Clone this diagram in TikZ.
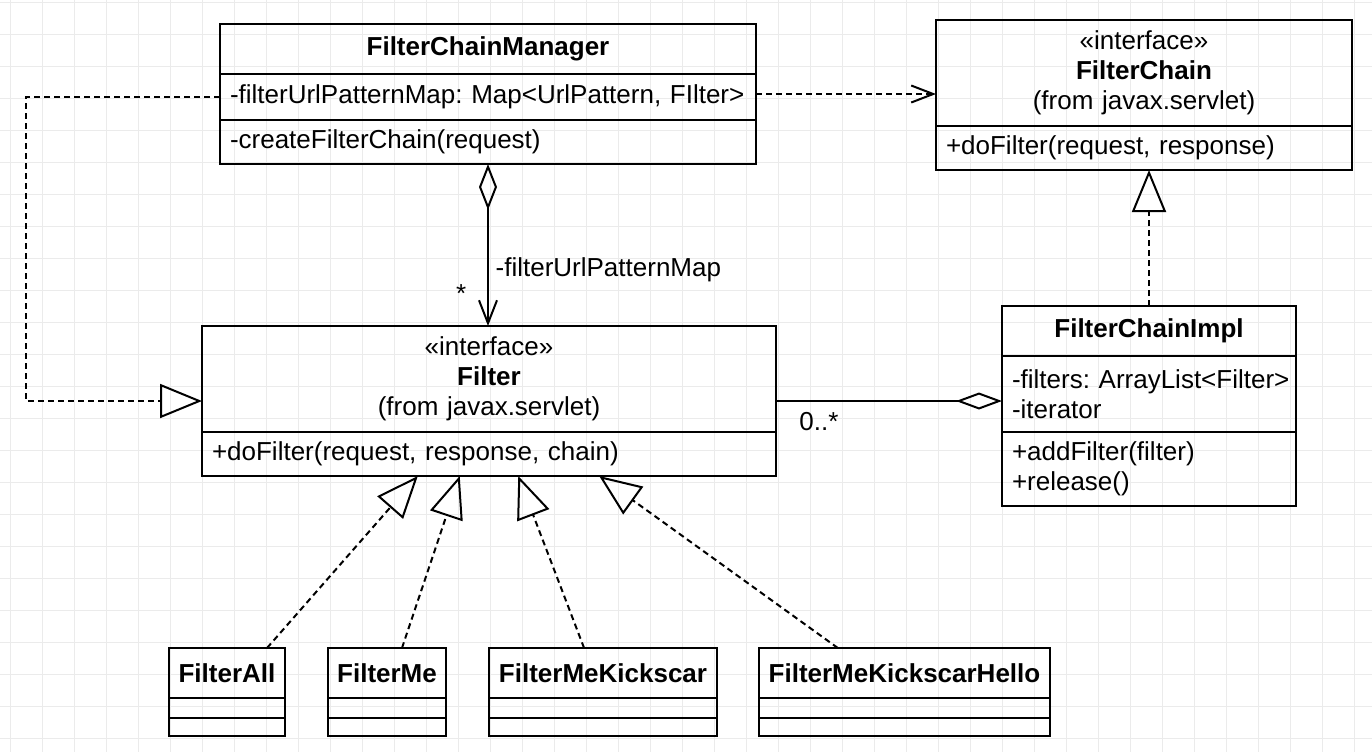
\documentclass[tikz,border=0pt]{standalone}
\usepackage{fontspec}
\setmainfont{Liberation Sans}
\frenchspacing
\usetikzlibrary{arrows.meta,chains,positioning,calc}

\begin{document}
\begin{tikzpicture}[x=0.5pt, y=-0.5pt,
			start chain =fcm going below,
			start chain =fc going below,
			start chain =flt going below,
			start chain =fci going below,
			start chain =fa going below,
			start chain =fme going below,
			start chain =fmk going below,
			start chain =fmkh going below,
			node distance = 0pt,
			every node/.style={font=\fontsize{13pt}{15pt}\selectfont},
			Cls/.style={draw, line width=1pt, outer sep=0pt, inner xsep=5pt, inner ysep=0pt},
			Head/.style={Cls, align=center, font=\fontsize{13pt}{15pt}\selectfont\bfseries},
			IHead/.style={Cls, align=center},
			Item/.style={Cls, align=left},
			Sm/.style={draw, line width=1pt, outer sep=0pt, inner xsep=3pt, inner ysep=0pt},
			SmHead/.style={Sm, font=\fontsize{13pt}{15pt}\selectfont\bfseries},
			gridline/.style={draw=black!8, line width=0.5pt},
			Dep/.style={line width=1pt, dash pattern=on 3pt off 2pt,
				-{Straight Barb[length=11pt, width=8.5pt]}},
			Real/.style={line width=1pt, dash pattern=on 3pt off 2pt,
				-{Triangle[open, length=21pt, width=17pt]}},
			Aggr/.style={line width=1pt,
				{Diamond[open, length=23pt, width=9pt]}-{Straight Barb[length=11.5pt, width=9pt]}},
			AggrEnd/.style={line width=1pt, -{Diamond[open, length=23pt, width=8.5pt]}},
			]
			\useasboundingbox (0,0) rectangle (1372,752);
			
			% background grid
			\foreach \gx in {10,42,...,1370} \draw[gridline] (\gx,0) -- (\gx,752);
			\foreach \gy in {2,34,...,750} \draw[gridline] (0,\gy) -- (1372,\gy);
			
			% FilterChainManager
			\node [Head, text width=258pt, minimum height=25pt, on chain=fcm, anchor=north west] (fcmH) at (220,24) {FilterChainManager};
			\node [Item, text width=258pt, minimum height=23pt, on chain=fcm] (fcmA) {\mbox{-filterUrlPatternMap: Map<UrlPattern, FIlter>}};
			\node [Item, text width=258pt, minimum height=22pt, on chain=fcm] (fcmM) {-createFilterChain(request)};
			
			% FilterChain
			\node [IHead, text width=198pt, minimum height=53pt, on chain=fc, anchor=north west] (fcH) at (936,20) {«interface»\\\textbf{FilterChain}\\(from javax.servlet)};
			\node [Item, text width=198pt, minimum height=22pt, on chain=fc] (fcM) {\mbox{+doFilter(request, response)}};
			
			% Filter
			\node [IHead, text width=277pt, minimum height=53pt, on chain=flt, anchor=north west] (fltH) at (202,326) {«interface»\\\textbf{Filter}\\(from javax.servlet)};
			\node [Item, text width=277pt, minimum height=22pt, on chain=flt] (fltM) {\mbox{+doFilter(request, response, chain)}};
			
			% FilterChainImpl
			\node [Head, text width=137pt, minimum height=25pt, on chain=fci, anchor=north west] (fciH) at (1002,306) {FilterChainImpl};
			\node [Item, text width=137pt, minimum height=38pt, on chain=fci] (fciA) {\mbox{-filters: ArrayList<Filter>}\\-iterator};
			\node [Item, text width=137pt, minimum height=37pt, on chain=fci] (fciM) {+addFilter(filter)\\+release()};
			
			% implementations
			\node [SmHead, minimum width=58pt, minimum height=25pt, on chain=fa, anchor=north west] (faH) at (169,648) {FilterAll};
			\node [Sm, minimum width=58pt, minimum height=10pt, on chain=fa] (faA) {};
			\node [Sm, minimum width=58pt, minimum height=9pt, on chain=fa] (faM) {};
			
			\node [SmHead, minimum width=59pt, minimum height=25pt, on chain=fme, anchor=north west] (fmeH) at (328,648) {FilterMe};
			\node [Sm, minimum width=59pt, minimum height=10pt, on chain=fme] (fmeA) {};
			\node [Sm, minimum width=59pt, minimum height=9pt, on chain=fme] (fmeM) {};
			
			\node [SmHead, minimum width=114pt, minimum height=25pt, on chain=fmk, anchor=north west] (fmkH) at (489,648) {FilterMeKickscar};
			\node [Sm, minimum width=114pt, minimum height=10pt, on chain=fmk] (fmkA) {};
			\node [Sm, minimum width=114pt, minimum height=9pt, on chain=fmk] (fmkM) {};
			
			\node [SmHead, minimum width=145.5pt, minimum height=25pt, on chain=fmkh, anchor=north west] (fmkhH) at (759,648) {FilterMeKickscarHello};
			\node [Sm, minimum width=145.5pt, minimum height=10pt, on chain=fmkh] (fmkhA) {};
			\node [Sm, minimum width=145.5pt, minimum height=9pt, on chain=fmkh] (fmkhM) {};
			
			\coordinate (fltW) at ($(fltH.north west)!.5!(fltM.south west)$);
			\coordinate (fltE) at ($(fltH.north east)!.5!(fltM.south east)$);
			
			% connectors
			\draw [Dep] ([yshift=1.5pt]fcmA.east) -- ([yshift=1.5pt]fcmA.east -| fcH.west);
			\draw [Real] (fcmA.west) -- ++(-194,0) |- (fltW);
			\draw [Aggr] (fcmM.south) -- (fcmM.south |- fltH.north)
			node[pos=.65, right] {-filterUrlPatternMap}
			node[pos=.8, left=7pt] {*};
			\draw [AggrEnd] (fltE) -- (fltE -| fciA.west) node[pos=.19, below=2pt] {0..*};
			\draw [Real] (fciH.north) -- (fciH.north |- fcM.south);
			
			\draw [Real] ($(faH.north west)!.845!(faH.north east)$) -- ($(fltM.south west)!.376!(fltM.south east)$);
			\draw [Real] ($(fmeH.north west)!.627!(fmeH.north east)$) -- ($(fltM.south west)!.449!(fltM.south east)$);
			\draw [Real] ($(fmkH.north west)!.417!(fmkH.north east)$) -- ($(fltM.south west)!.551!(fltM.south east)$);
			\draw [Real] ($(fmkhH.north west)!.271!(fmkhH.north east)$) -- ($(fltM.south west)!.692!(fltM.south east)$);
		\end{tikzpicture}
\end{document}
